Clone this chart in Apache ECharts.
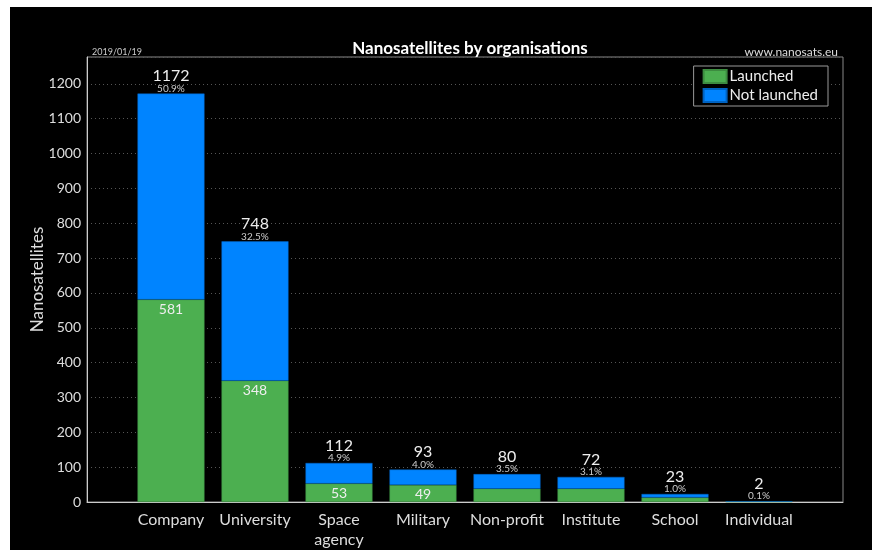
<!DOCTYPE html>
<html><head><meta charset="utf-8">
<script src="https://cdn.jsdelivr.net/npm/echarts@6/dist/echarts.min.js"></script>
<style>html,body{margin:0;padding:0;background:#fff}#c{width:872px;height:550px}</style>
</head><body><div id="c"></div>
<script>
const categories = ['Company', 'University', 'Space\nagency', 'Military', 'Non-profit', 'Institute', 'School', 'Individual'];
const launched = [581, 348, 53, 49, 38, 38, 13, 1];
const totals = [1172, 748, 112, 93, 80, 72, 23, 2];
const launchedLabelShown = [true, true, true, true, false, false, false, false];
const yTicks = [0, 100, 200, 300, 400, 500, 600, 700, 800, 900, 1000, 1100, 1200];

const FONT = 'Lato';
const sum = totals.reduce((a, b) => a + b, 0);
const notLaunched = totals.map((t, i) => t - launched[i]);
const cats = [''].concat(categories, ['']);
const pad = arr => [null].concat(arr, [null]);

const chart = echarts.init(document.getElementById('c'), null, {renderer: 'canvas'});
chart.setOption({
  backgroundColor: '#fff',
  animation: false,
  textStyle: {fontFamily: FONT},
  graphic: [{type: 'rect', z: -10, silent: true, shape: {x: 10, y: 7, width: 862, height: 543}, style: {fill: '#000'}}],
  title: [
    {text: 'Nanosatellites by organisations', left: 465, top: 35, textAlign: 'center',
     textStyle: {color: '#fff', fontSize: 17, fontWeight: 'bold', fontFamily: FONT}},
    {text: '2019/01/19', left: 87, top: 43, textStyle: {color: '#ccc', fontSize: 9, fontWeight: 'normal', fontFamily: FONT}},
    {text: 'www.nanosats.eu', right: 29, top: 41, textStyle: {color: '#ddd', fontSize: 12, fontWeight: 'normal', fontFamily: FONT}}
  ],
  legend: {
    right: 44, top: 66, orient: 'vertical', icon: 'rect', itemWidth: 23, itemHeight: 13, itemGap: 4,
    padding: [3, 10, 3, 9], borderColor: '#999', borderWidth: 1, backgroundColor: '#000',
    textStyle: {color: '#eee', fontSize: 15, fontFamily: FONT, padding: [0, 0, 0, -2]},
    data: ['Launched', 'Not launched']
  },
  grid: {left: 87, top: 57, right: 29, bottom: 46, show: true, borderColor: '#888', borderWidth: 1, backgroundColor: 'transparent'},
  xAxis: {
    type: 'category', data: cats, boundaryGap: false,
    axisLine: {lineStyle: {color: '#ccc', width: 1}}, axisTick: {show: false},
    axisLabel: {color: '#ddd', fontSize: 16, fontFamily: FONT, margin: 8, interval: 0, align: 'center', lineHeight: 20,
      formatter: v => v}
  },
  yAxis: {
    type: 'value', min: 0, max: 1277, interval: 100,
    name: 'Nanosatellites', nameLocation: 'middle', nameGap: 41, nameRotate: 90, nameMoveOverlap: false,
    nameTextStyle: {color: '#ddd', fontSize: 17, fontFamily: FONT},
    axisLine: {show: true, lineStyle: {color: '#ccc', width: 1}}, axisTick: {show: false},
    axisLabel: {color: '#ddd', fontSize: 14, fontFamily: FONT, margin: 6, showMaxLabel: false,
      formatter: v => yTicks.indexOf(v) >= 0 ? String(v) : ''},
    splitLine: {show: true, lineStyle: {color: '#555', type: [1, 3], width: 1}}
  },
  series: [
    {name: 'Launched', type: 'bar', stack: 's', barWidth: 67, data: pad(launched),
     itemStyle: {color: '#4caf50', borderColor: '#3d8c40', borderWidth: 0.5},
     label: {show: true, position: 'insideTop', color: '#eee', fontSize: 14, fontFamily: FONT, distance: 3,
       formatter: p => launchedLabelShown[p.dataIndex - 1] ? String(p.value) : ''}},
    {name: 'Not launched', type: 'bar', stack: 's', barWidth: 67, data: pad(notLaunched),
     itemStyle: {color: '#0084ff', borderColor: '#0062c0', borderWidth: 0.5},
     label: {show: true, position: 'top', distance: 0, fontFamily: FONT, lineHeight: 11,
       formatter: p => {
         const i = p.dataIndex - 1;
         return '{a|' + totals[i] + '}\n{b|' + (totals[i] / sum * 100).toFixed(1) + '%}';
       },
       rich: {a: {color: '#eee', fontSize: 16, fontFamily: FONT, lineHeight: 15},
              b: {color: '#ccc', fontSize: 10, fontFamily: FONT, lineHeight: 10}}}}
  ]
});
</script></body></html>
